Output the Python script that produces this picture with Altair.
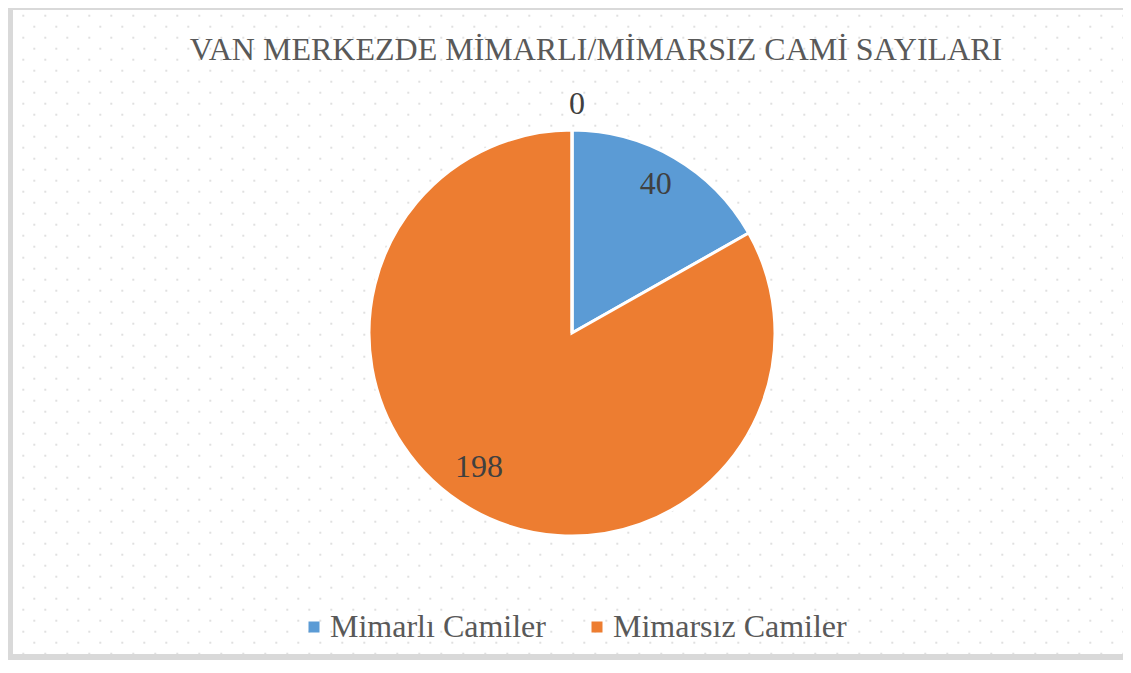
import altair as alt
import pandas as pd

# ---- data ----
categories = ["Mimarlı Camiler", "Mimarsız Camiler", "Diğer"]
values = [40, 198, 0]
legend_categories = ["Mimarlı Camiler", "Mimarsız Camiler"]
colors = ["#5B9BD5", "#ED7D31"]
title_text = "VAN MERKEZDE MİMARLI/MİMARSIZ CAMİ SAYILARI"

df = pd.DataFrame({"kategori": categories, "sayi": values, "sira": list(range(len(categories)))})

# ---- layout (chart coordinates = page - 8px margin) ----
W, H = 1115, 652
CX, CY, R = 564, 325, 203
FONT = "Liberation Serif"
FRAME = "#d9d9d9"

base = alt.Chart(df).encode(
    theta=alt.Theta("sayi:Q", stack=True),
    order=alt.Order("sira:Q"),
)

arcs = base.mark_arc(radius=R, stroke="white", strokeWidth=3).encode(
    color=alt.Color(
        "kategori:N",
        scale=alt.Scale(domain=legend_categories, range=colors),
        legend=alt.Legend(
            title=None, orient="none", legendX=290, legendY=603,
            direction="horizontal", symbolType="square", symbolSize=121,
            symbolStrokeWidth=0, labelFont=FONT, labelFontSize=32,
            labelColor="#595959", labelOffset=0, columnPadding=35,
            labelLimit=0, padding=0,
        ),
    ),
    x=alt.value(CX),
    y=alt.value(CY),
)


def label(cat, radius, dx=0, dy=0):
    return (
        base.transform_calculate(
            lbl=f"datum.kategori == '{cat}' ? format(datum.sayi, 'd') : ''"
        )
        .mark_text(radius=radius, dx=dx, dy=dy, font=FONT, fontSize=32, color="#404040")
        .encode(text="lbl:N", detail="kategori:N", x=alt.value(CX), y=alt.value(CY))
    )


lab1 = label("Mimarlı Camiler", 170, dx=-2, dy=-2)
lab2 = label("Mimarsız Camiler", 163, dx=-11, dy=-7)
lab3 = label("Diğer", 229, dx=5)

title = (
    alt.Chart(pd.DataFrame({"t": [title_text]}))
    .mark_text(font=FONT, fontSize=32, color="#595959", align="center", baseline="alphabetic")
    .encode(text="t:N", x=alt.value(588), y=alt.value(52))
)

dots = (
    alt.Chart(alt.sequence(0, 51 * 59, as_="i"))
    .transform_calculate(row="floor(datum.i / 51)", col="datum.i % 51")
    .transform_calculate(
        px="15.3 + 22 * datum.col + 11 * (datum.row % 2)",
        py="7.7 + 11 * datum.row",
    )
    .mark_square(size=4, color="#e0e0e0", opacity=1)
    .encode(x=alt.X("px:Q", scale=None, axis=None), y=alt.Y("py:Q", scale=None, axis=None))
)

frame_df = pd.DataFrame({"f": [0]})
frame_left = alt.Chart(frame_df).mark_rule(color=FRAME, strokeWidth=9).encode(
    x=alt.value(0.5), y=alt.value(-5), y2=alt.value(H + 5)
)
frame_top = alt.Chart(frame_df).mark_rule(color=FRAME, strokeWidth=6).encode(
    x=alt.value(-5), x2=alt.value(W + 5), y=alt.value(-1)
)
frame_bottom = alt.Chart(frame_df).mark_rule(color=FRAME, strokeWidth=6).encode(
    x=alt.value(-5), x2=alt.value(W + 5), y=alt.value(H - 3)
)

chart = (
    alt.layer(dots, frame_left, frame_top, frame_bottom, title, arcs, lab1, lab2, lab3)
    .properties(
        width=W,
        height=H,
        padding=0,
        autosize=alt.AutoSizeParams(type="none"),
    )
    .configure_view(stroke=None)
    .configure(background="white")
)

chart.save("out.html", embed_options={"renderer": "svg", "actions": False})
